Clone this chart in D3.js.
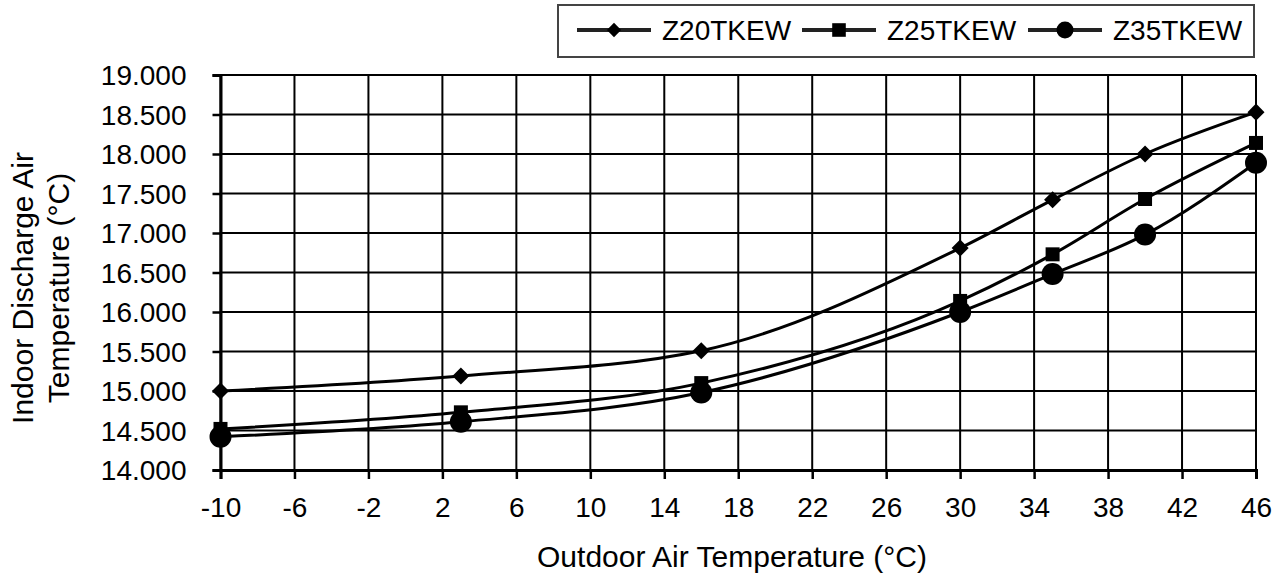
<!DOCTYPE html>
<html>
<head>
<meta charset="utf-8">
<script src="https://cdn.jsdelivr.net/npm/d3@7"></script>
<style>
  html, body { margin: 0; padding: 0; background: #fff; }
  svg { display: block; }
  text { font-family: "Liberation Sans", Arial, sans-serif; fill: #000; }
</style>
</head>
<body>
<svg id="chart" width="1282" height="579"></svg>
<script>
const outdoorTemps = [-10, 3, 16, 30, 35, 40, 46];
const z20tkew = [15.00, 15.19, 15.51, 16.81, 17.42, 18.00, 18.53];
const z25tkew = [14.52, 14.73, 15.10, 16.14, 16.73, 17.43, 18.14];
const z35tkew = [14.42, 14.61, 14.98, 16.00, 16.48, 16.98, 17.89];
const seriesNames = ["Z20TKEW", "Z25TKEW", "Z35TKEW"];
const seriesMarkers = ["diamond", "square", "circle"];
const xTicks = [-10, -6, -2, 2, 6, 10, 14, 18, 22, 26, 30, 34, 38, 42, 46];
const yTicks = [14, 14.5, 15, 15.5, 16, 16.5, 17, 17.5, 18, 18.5, 19];
const xTitle = "Outdoor Air Temperature (°C)";
const yTitleLines = ["Indoor Discharge Air", "Temperature (°C)"];

(function () {
const seriesValues = [z20tkew, z25tkew, z35tkew];
const series = seriesNames.map((name, i) => ({
  name, marker: seriesMarkers[i],
  points: outdoorTemps.map((t, j) => ({ x: t, y: seriesValues[i][j] }))
}));

const svg = d3.select("#chart");
const pLeft = 220.5, pRight = 1256, pTop = 75, pBottom = 470;
const x = d3.scaleLinear().domain([-10, 46]).range([pLeft, pRight]);
const y = d3.scaleLinear().domain([14, 19]).range([pBottom, pTop]);

// gridlines
const grid = svg.append("g");
grid.selectAll(".vg").data(xTicks).join("line")
  .attr("x1", d => x(d)).attr("x2", d => x(d))
  .attr("y1", pTop).attr("y2", pBottom)
  .attr("stroke", "#000").attr("stroke-width", 2);
grid.selectAll(".hg").data(yTicks).join("line")
  .attr("x1", pLeft).attr("x2", pRight)
  .attr("y1", d => y(d)).attr("y2", d => y(d))
  .attr("stroke", "#000").attr("stroke-width", 2);

// axes
const xAxis = d3.axisBottom(x).tickValues(xTicks).tickSize(9).tickPadding(18)
  .tickFormat(d => String(d));
const gx = svg.append("g").attr("transform", `translate(0,${pBottom})`).call(xAxis);
gx.select(".domain").attr("stroke", "#000").attr("stroke-width", 3);
gx.selectAll(".tick line").attr("stroke", "#000").attr("stroke-width", 2.5);
gx.selectAll(".tick text").attr("font-size", 28).attr("font-family", "Liberation Sans, Arial, sans-serif")
  .attr("fill", "#000");

const yAxis = d3.axisLeft(y).tickValues(yTicks).tickSize(8).tickPadding(26)
  .tickFormat(d => d.toFixed(3));
const gy = svg.append("g").attr("transform", `translate(${pLeft},0)`).call(yAxis);
gy.select(".domain").attr("stroke", "#000").attr("stroke-width", 3);
gy.selectAll(".tick line").attr("stroke", "#000").attr("stroke-width", 2.5);
gy.selectAll(".tick text").attr("font-size", 28).attr("font-family", "Liberation Sans, Arial, sans-serif")
  .attr("fill", "#000").attr("dy", "0.35em");

// series lines
const line = d3.line().x(d => x(d.x)).y(d => y(d.y)).curve(d3.curveMonotoneX);
svg.append("g").selectAll("path").data(series).join("path")
  .attr("d", d => line(d.points))
  .attr("fill", "none").attr("stroke", "#000").attr("stroke-width", 3)
  .attr("stroke-linejoin", "round");

const symbolFor = {
  diamond: d3.symbol().type(d3.symbolDiamond2).size(185),
  square: d3.symbol().type(d3.symbolSquare).size(196),
  circle: d3.symbol().type(d3.symbolCircle).size(Math.PI * 11 * 11)
};
const legendSymbolFor = {
  diamond: d3.symbol().type(d3.symbolDiamond2).size(130),
  square: d3.symbol().type(d3.symbolSquare).size(185),
  circle: d3.symbol().type(d3.symbolCircle).size(Math.PI * 8.5 * 8.5)
};

const mk = svg.append("g");
series.forEach(s => {
  mk.append("g").selectAll("path").data(s.points).join("path")
    .attr("transform", d => `translate(${x(d.x)},${y(d.y)})`)
    .attr("d", symbolFor[s.marker]())
    .attr("fill", "#000");
});

// axis titles
svg.append("text").attr("x", 732).attr("y", 567).attr("text-anchor", "middle")
  .attr("font-size", 30).text(xTitle);
yTitleLines.forEach((t, i) => {
  svg.append("text")
    .attr("transform", `translate(${33 + i * 36},288) rotate(-90)`)
    .attr("text-anchor", "middle").attr("font-size", 30).text(t);
});

// legend
const lg = svg.append("g");
lg.append("rect").attr("x", 558).attr("y", 5).attr("width", 696).attr("height", 52)
  .attr("fill", "#fff").attr("stroke", "#444").attr("stroke-width", 2);
const legendStarts = [577, 802, 1028];
series.forEach((s, i) => {
  const sx = legendStarts[i], cy = 30;
  lg.append("line").attr("x1", sx).attr("x2", sx + 74).attr("y1", cy).attr("y2", cy)
    .attr("stroke", "#222").attr("stroke-width", 4);
  lg.append("path").attr("transform", `translate(${sx + 37},${cy})`)
    .attr("d", legendSymbolFor[s.marker]()).attr("fill", "#000");
  lg.append("text").attr("x", sx + 85).attr("y", 40).attr("font-size", 28)
    .attr("fill", "#222").text(s.name);
});
})();
</script>
</body>
</html>
